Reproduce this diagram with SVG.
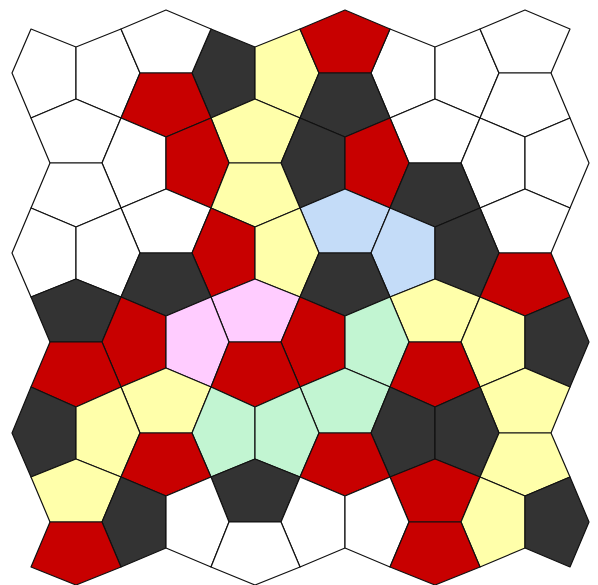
<svg xmlns="http://www.w3.org/2000/svg" width="598" height="585" viewBox="0 0 598 585">
<style>
polygon{stroke:#111;stroke-width:1.2;stroke-linejoin:round}
.w{fill:#ffffff}.r{fill:#c80000}.k{fill:#333333}.y{fill:#ffffaa}.b{fill:#c4dcf8}.p{fill:#ffccff}.g{fill:#c2f5d2}
</style>
<rect width="598" height="585" fill="#ffffff"/>
<g id="tiles">
<polygon id="v00" class="w" points="31,29 76,47 76,99 31,118 12,73"/>
<polygon id="v10" class="w" points="121,29 140,73 121,118 76,99 76,47"/>
<polygon id="v20" class="k" points="211,29 255,47 255,99 211,118 192,73"/>
<polygon id="v30" class="y" points="300,29 319,73 300,118 255,99 255,47"/>
<polygon id="v40" class="w" points="390,29 435,47 435,99 390,118 371,73"/>
<polygon id="v50" class="w" points="480,29 499,73 480,118 435,99 435,47"/>
<polygon id="h10" class="w" points="121,29 166,10 211,29 192,73 140,73"/>
<polygon id="h30" class="r" points="300,29 345,10 390,29 371,73 319,73"/>
<polygon id="h50" class="w" points="480,29 525,10 570,29 551,73 499,73"/>
<polygon id="h01" class="w" points="31,118 76,99 121,118 102,163 50,163"/>
<polygon id="h11" class="r" points="121,118 140,73 192,73 211,118 166,137"/>
<polygon id="h21" class="y" points="211,118 255,99 300,118 281,163 229,163"/>
<polygon id="h31" class="k" points="300,118 319,73 371,73 390,118 345,137"/>
<polygon id="h41" class="w" points="390,118 435,99 480,118 461,163 409,163"/>
<polygon id="h51" class="w" points="480,118 499,73 551,73 570,118 525,137"/>
<polygon id="v11" class="w" points="121,118 166,137 166,189 121,208 102,163"/>
<polygon id="v21" class="r" points="211,118 229,163 211,208 166,189 166,137"/>
<polygon id="v31" class="k" points="300,118 345,137 345,189 300,208 281,163"/>
<polygon id="v41" class="r" points="390,118 409,163 390,208 345,189 345,137"/>
<polygon id="v51" class="w" points="480,118 525,137 525,189 480,208 461,163"/>
<polygon id="v61" class="w" points="570,118 589,163 570,208 525,189 525,137"/>
<polygon id="h02" class="w" points="31,208 50,163 102,163 121,208 76,227"/>
<polygon id="h12" class="w" points="121,208 166,189 211,208 192,253 140,253"/>
<polygon id="h22" class="y" points="211,208 229,163 281,163 300,208 255,227"/>
<polygon id="h32" class="b" points="300,208 345,189 390,208 371,253 319,253"/>
<polygon id="h42" class="k" points="390,208 409,163 461,163 480,208 435,227"/>
<polygon id="h52" class="w" points="480,208 525,189 570,208 551,253 499,253"/>
<polygon id="v02" class="w" points="31,208 76,227 76,279 31,297 12,253"/>
<polygon id="v12" class="w" points="121,208 140,253 121,297 76,279 76,227"/>
<polygon id="v22" class="r" points="211,208 255,227 255,279 211,297 192,253"/>
<polygon id="v32" class="y" points="300,208 319,253 300,297 255,279 255,227"/>
<polygon id="v42" class="b" points="390,208 435,227 435,279 390,297 371,253"/>
<polygon id="v52" class="k" points="480,208 499,253 480,297 435,279 435,227"/>
<polygon id="h03" class="k" points="31,297 76,279 121,297 102,342 50,342"/>
<polygon id="h13" class="k" points="121,297 140,253 192,253 211,297 166,316"/>
<polygon id="h23" class="p" points="211,297 255,279 300,297 281,342 229,342"/>
<polygon id="h33" class="k" points="300,297 319,253 371,253 390,297 345,316"/>
<polygon id="h43" class="y" points="390,297 435,279 480,297 461,342 409,342"/>
<polygon id="h53" class="r" points="480,297 499,253 551,253 570,297 525,316"/>
<polygon id="v13" class="r" points="121,297 166,316 166,368 121,387 102,342"/>
<polygon id="v23" class="p" points="211,297 229,342 211,387 166,368 166,316"/>
<polygon id="v33" class="r" points="300,297 345,316 345,368 300,387 281,342"/>
<polygon id="v43" class="g" points="390,297 409,342 390,387 345,368 345,316"/>
<polygon id="v53" class="y" points="480,297 525,316 525,368 480,387 461,342"/>
<polygon id="v63" class="k" points="570,297 589,342 570,387 525,368 525,316"/>
<polygon id="h04" class="r" points="31,387 50,342 102,342 121,387 76,407"/>
<polygon id="h14" class="y" points="121,387 166,368 211,387 192,433 140,433"/>
<polygon id="h24" class="r" points="211,387 229,342 281,342 300,387 255,407"/>
<polygon id="h34" class="g" points="300,387 345,368 390,387 371,433 319,433"/>
<polygon id="h44" class="r" points="390,387 409,342 461,342 480,387 435,407"/>
<polygon id="h54" class="y" points="480,387 525,368 570,387 551,433 499,433"/>
<polygon id="v04" class="k" points="31,387 76,407 76,459 31,477 12,433"/>
<polygon id="v14" class="y" points="121,387 140,433 121,477 76,459 76,407"/>
<polygon id="v24" class="g" points="211,387 255,407 255,459 211,477 192,433"/>
<polygon id="v34" class="g" points="300,387 319,433 300,477 255,459 255,407"/>
<polygon id="v44" class="k" points="390,387 435,407 435,459 390,477 371,433"/>
<polygon id="v54" class="k" points="480,387 499,433 480,477 435,459 435,407"/>
<polygon id="h05" class="y" points="31,477 76,459 121,477 102,522 50,522"/>
<polygon id="h15" class="r" points="121,477 140,433 192,433 211,477 166,496"/>
<polygon id="h25" class="k" points="211,477 255,459 300,477 281,522 229,522"/>
<polygon id="h35" class="r" points="300,477 319,433 371,433 390,477 345,496"/>
<polygon id="h45" class="r" points="390,477 435,459 480,477 461,522 409,522"/>
<polygon id="h55" class="y" points="480,477 499,433 551,433 570,477 525,496"/>
<polygon id="v15" class="k" points="121,477 166,496 166,548 121,567 102,522"/>
<polygon id="v25" class="w" points="211,477 229,522 211,567 166,548 166,496"/>
<polygon id="v35" class="w" points="300,477 345,496 345,548 300,567 281,522"/>
<polygon id="v45" class="w" points="390,477 409,522 390,567 345,548 345,496"/>
<polygon id="v55" class="y" points="480,477 525,496 525,548 480,567 461,522"/>
<polygon id="v65" class="k" points="570,477 589,522 570,567 525,548 525,496"/>
<polygon id="h06" class="r" points="31,567 50,522 102,522 121,567 76,585"/>
<polygon id="h26" class="w" points="211,567 229,522 281,522 300,567 255,585"/>
<polygon id="h46" class="r" points="390,567 409,522 461,522 480,567 435,585"/>
</g>
</svg>
